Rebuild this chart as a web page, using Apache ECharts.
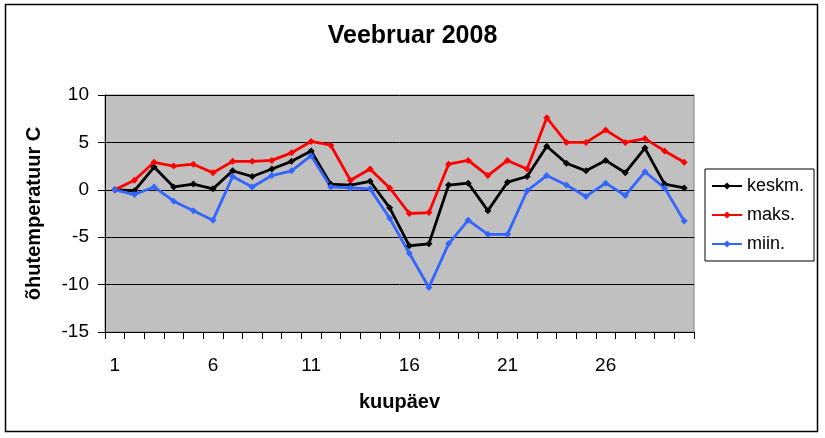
<!DOCTYPE html>
<html>
<head>
<meta charset="utf-8">
<script src="https://cdn.jsdelivr.net/npm/echarts@6/dist/echarts.min.js"></script>
<style>
  html, body { margin: 0; padding: 0; background: #fff; }
  #chart { width: 825px; height: 438px; }
</style>
</head>
<body>
<div id="chart"></div>
<script>
// kuupäevad (30 rida)
var days = ['1','2','3','4','5','6','7','8','9','10','11','12','13','14','15',
            '16','17','18','19','20','21','22','23','24','25','26','27','28','29','30'];

var keskm = [0, -0.1, 2.4, 0.3, 0.6, 0.1, 2.0, 1.4, 2.2, 3.0, 4.1, 0.6, 0.5, 0.9, -1.9,
             -5.9, -5.7, 0.5, 0.7, -2.2, 0.8, 1.4, 4.6, 2.8, 2.0, 3.1, 1.8, 4.4, 0.6, 0.2];
var maks  = [0, 1.0, 2.9, 2.5, 2.7, 1.8, 3.0, 3.0, 3.1, 3.9, 5.1, 4.7, 1.0, 2.2, 0.2,
             -2.5, -2.4, 2.7, 3.1, 1.5, 3.1, 2.2, 7.6, 5.0, 5.0, 6.3, 5.0, 5.4, 4.1, 2.9];
var miin  = [0, -0.5, 0.3, -1.2, -2.2, -3.2, 1.4, 0.3, 1.5, 2.0, 3.6, 0.3, 0.2, 0.1, -3.0,
             -6.7, -10.3, -5.7, -3.2, -4.7, -4.7, -0.1, 1.5, 0.5, -0.7, 0.7, -0.6, 1.9, 0.2, -3.3];

var FONT = 'Arial, "Liberation Sans", sans-serif';

function make_series(name, data, color){
    return {
        name: name,
        type: 'line',
        data: data,
        symbol: 'diamond',
        symbolSize: 7,
        lineStyle: { color: color, width: 2.8 },
        itemStyle: { color: color },
        emphasis: { disabled: true }
    };
}

var chart = echarts.init(document.getElementById('chart'));
chart.setOption({
    animation: false,
    backgroundColor: '#fff',
    title: {
        text: 'Veebruar 2008',
        left: 'center',
        top: 19,
        textStyle: { fontFamily: FONT, fontSize: 25, fontWeight: 'bold', color: '#000' }
    },
    graphic: [{
        type: 'rect',
        shape: { x: 5.5, y: 4.5, width: 812, height: 427 },
        style: { fill: 'none', stroke: '#000', lineWidth: 1.5 },
        silent: true
    }],
    legend: {
        orient: 'vertical',
        left: 705,
        top: 169,
        width: 89,
        padding: [8, 10, 8, 6],
        itemGap: 11,
        itemWidth: 30,
        itemHeight: 9,
        backgroundColor: '#fff',
        borderColor: '#000',
        borderWidth: 1,
        textStyle: { fontFamily: FONT, fontSize: 18, color: '#000', padding: [0, 0, 0, 0] },
        data: ['keskm.', 'maks.', 'miin.']
    },
    grid: {
        left: 105, right: 131, top: 95, bottom: 106,
        show: true,
        backgroundColor: '#c0c0c0',
        borderColor: '#808080',
        borderWidth: 1
    },
    xAxis: {
        type: 'category',
        data: days,
        boundaryGap: true,
        name: 'kuupäev',
        nameLocation: 'middle',
        nameGap: 60,
        nameTextStyle: { fontFamily: FONT, fontSize: 20, fontWeight: 'bold', color: '#000' },
        axisLine: { show: true, onZero: false, lineStyle: { color: '#000', width: 1 } },
        axisTick: { show: true, interval: 0, length: 7, lineStyle: { color: '#000', width: 1 } },
        axisLabel: { interval: 4, margin: 24, fontFamily: FONT, fontSize: 19, color: '#000' },
        splitLine: { show: false }
    },
    yAxis: {
        type: 'value',
        min: -15,
        max: 10,
        interval: 5,
        name: 'õhutemperatuur C',
        nameLocation: 'middle',
        nameGap: 61,
        nameTextStyle: { fontFamily: FONT, fontSize: 20, fontWeight: 'bold', color: '#000' },
        axisLine: { show: true, lineStyle: { color: '#000', width: 1 } },
        axisTick: { show: true, length: 7, lineStyle: { color: '#000' } },
        axisLabel: { margin: 16, fontFamily: FONT, fontSize: 19, color: '#000' },
        splitLine: { lineStyle: { color: '#000', width: 1 } }
    },
    series: [
        make_series('keskm.', keskm, '#000000'),
        make_series('maks.', maks, '#ff0000'),
        make_series('miin.', miin, '#3366ff')
    ]
});
</script>
</body>
</html>
